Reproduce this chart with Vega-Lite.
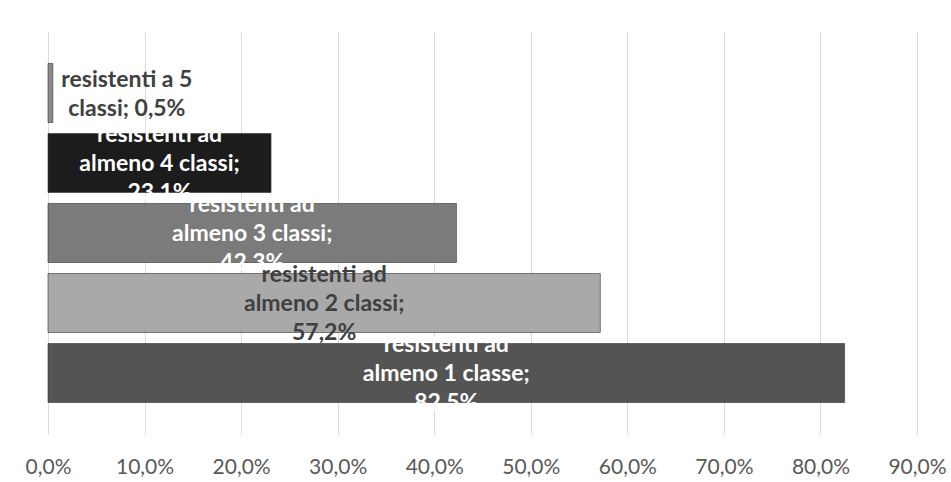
{
  "$schema": "https://vega.github.io/schema/vega-lite/v6.json",
  "autosize": "none",
  "width": 869,
  "height": 402,
  "padding": {"left": 48, "top": 32, "right": 34, "bottom": 48},
  "background": "white",
  "config": {"view": {"stroke": null}},
  "data": {
    "values": [
      {"cat": "5", "value": 0.005, "label": ["resistenti a 5", "classi; 0,5%"]},
      {"cat": "4", "value": 0.231, "label": ["resistenti ad", "almeno 4 classi;", "23,1%"]},
      {"cat": "3", "value": 0.423, "label": ["resistenti ad", "almeno 3 classi;", "42,3%"]},
      {"cat": "2", "value": 0.572, "label": ["resistenti ad", "almeno 2 classi;", "57,2%"]},
      {"cat": "1", "value": 0.825, "label": ["resistenti ad", "almeno 1 classe;", "82,5%"]}
    ]
  },
  "encoding": {
    "y": {
      "field": "cat",
      "type": "nominal",
      "sort": ["5", "4", "3", "2", "1"],
      "axis": null,
      "scale": {"paddingInner": 0.157, "paddingOuter": 0.45}
    }
  },
  "layer": [
    {
      "mark": {"type": "bar", "stroke": "#333333", "strokeWidth": 1, "strokeOpacity": 0.6},
      "encoding": {
        "x": {
          "field": "value",
          "type": "quantitative",
          "scale": {"domain": [0, 0.9], "nice": false, "zero": true},
          "axis": {
            "values": [0, 0.1, 0.2, 0.3, 0.4, 0.5, 0.6, 0.7, 0.8, 0.9],
            "labelExpr": "replace(format(datum.value, '.1%'), '.', ',')",
            "title": null,
            "grid": true,
            "gridColor": "#d9d9d9",
            "gridWidth": 1,
            "domain": false,
            "ticks": false,
            "labelFont": "Lato",
            "labelFontSize": 21,
            "labelColor": "#595959",
            "labelPadding": 22,
            "labelFlush": false,
            "labelOverlap": false,
            "labelBound": false
          }
        },
        "color": {
          "field": "cat",
          "type": "nominal",
          "scale": {"domain": ["5", "4", "3", "2", "1"], "range": ["#8a8a8a", "#1c1c1c", "#7b7b7b", "#a9a9a9", "#545454"]},
          "legend": null
        }
      }
    },
    {
      "transform": [{"filter": "datum.cat !== '5'"}],
      "mark": {"type": "text", "font": "Lato", "fontWeight": "bold", "fontSize": 23, "lineHeight": 29, "align": "center", "baseline": "middle", "dy": -28},
      "encoding": {
        "x": {"field": "value", "type": "quantitative", "scale": {"domain": [0, 1.8], "nice": false, "zero": true}, "axis": null},
        "text": {"field": "label"},
        "color": {"condition": {"test": "datum.cat === '2'", "value": "#404040"}, "value": "white"}
      }
    },
    {
      "transform": [{"filter": "datum.cat === '5'"}],
      "mark": {"type": "text", "font": "Lato", "fontWeight": "bold", "fontSize": 23, "lineHeight": 29, "align": "center", "baseline": "middle", "dx": 74, "dy": -13, "color": "#404040"},
      "encoding": {
        "x": {"field": "value", "type": "quantitative", "scale": {"domain": [0, 0.9], "nice": false, "zero": true}, "axis": null},
        "text": {"field": "label"}
      }
    }
  ],
  "resolve": {"scale": {"x": "independent"}}
}
